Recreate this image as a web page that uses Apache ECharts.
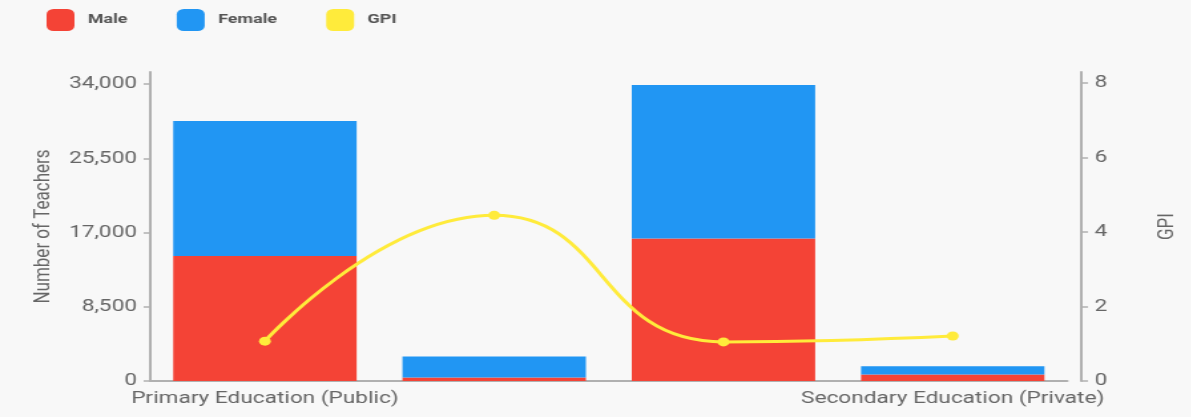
<!DOCTYPE html>
<html>
<head>
<meta charset="utf-8">
<script src="https://cdn.jsdelivr.net/npm/echarts@6/dist/echarts.min.js"></script>
<style>
  html, body { margin: 0; padding: 0; background: #f8f8f8; overflow: hidden; }
  #chart { height: 417px; transform-origin: 0 0; }
</style>
</head>
<body>
<div id="chart"></div>
<script>
// data
var categories = [
  "Primary Education (Public)",
  "Primary Education (Private)",
  "Secondary Education (Public)",
  "Secondary Education (Private)"
];
var maleData = [14300, 400, 16300, 730];
var femaleData = [15460, 2410, 17580, 960];
var gpiData = [1.07, 4.45, 1.05, 1.21];
var teacherTicks = [0, 8500, 17000, 25500, 34000];
var gpiTicks = [0, 2, 4, 6, 8];

// the source picture is stretched horizontally, so draw narrower and scale
var S = 1.33;
var el = document.getElementById("chart");
el.style.width = (1191 / S) + "px";
el.style.transform = "scaleX(" + S + ")";

var chart = echarts.init(el);
var axisGrey = "#b0b0b0";
var labelGrey = "#666";
var shownIdx = function(i) { return i === 0 || i === categories.length - 1; };

var option = {
  backgroundColor: "#f8f8f8",
  textStyle: { fontFamily: "Roboto" },
  animation: false,
  legend: {
    left: 35,
    top: 9,
    padding: 0,
    itemWidth: 21,
    itemHeight: 22,
    itemGap: 37,
    icon: "roundRect",
    textStyle: {
      fontSize: 13.5,
      fontWeight: "bold",
      color: "#555",
      padding: [0, 0, 0, 5]
    },
    data: ["Male", "Female", "GPI"]
  },
  grid: {
    left: 113,
    right: 1191 / S - 803,
    top: 72,
    bottom: 36,
    containLabel: false
  },
  xAxis: {
    type: "category",
    data: categories,
    axisLine: { lineStyle: { color: axisGrey, width: 2 } },
    axisTick: {
      alignWithLabel: true,
      length: 6,
      interval: shownIdx,
      lineStyle: { color: axisGrey, width: 2 }
    },
    axisLabel: {
      interval: shownIdx,
      fontSize: 17,
      color: labelGrey,
      margin: 9
    }
  },
  yAxis: [
    {
      type: "value",
      min: 0,
      max: 35375,
      name: "Number of Teachers",
      nameLocation: "middle",
      nameGap: 72,
      nameTextStyle: { fontSize: 17, color: labelGrey },
      splitLine: { show: false },
      axisLine: { show: true, lineStyle: { color: axisGrey, width: 2 } },
      axisTick: {
        show: true,
        length: 5,
        customValues: teacherTicks,
        lineStyle: { color: axisGrey, width: 1.5 }
      },
      axisLabel: {
        customValues: teacherTicks,
        fontSize: 17,
        color: labelGrey,
        margin: 10,
        formatter: function(v) { return v.toLocaleString("en-US"); }
      }
    },
    {
      type: "value",
      min: 0,
      max: 8.3,
      offset: 10.5,
      name: "GPI",
      nameLocation: "middle",
      nameGap: 56,
      nameTextStyle: { fontSize: 17, color: labelGrey },
      splitLine: { show: false },
      axisLine: { show: true, lineStyle: { color: axisGrey, width: 2 } },
      axisTick: {
        show: true,
        length: 5,
        customValues: gpiTicks,
        lineStyle: { color: axisGrey, width: 1.5 }
      },
      axisLabel: {
        customValues: gpiTicks,
        fontSize: 17,
        color: labelGrey,
        margin: 10
      }
    }
  ],
  series: [
    {
      name: "Male",
      type: "bar",
      stack: "teachers",
      barCategoryGap: "20%",
      itemStyle: { color: "#f44336" },
      data: maleData
    },
    {
      name: "Female",
      type: "bar",
      stack: "teachers",
      itemStyle: { color: "#2196f3" },
      data: femaleData
    },
    {
      name: "GPI",
      type: "line",
      yAxisIndex: 1,
      smooth: true,
      symbol: "circle",
      symbolSize: 9,
      lineStyle: { color: "#ffeb3b", width: 3 },
      itemStyle: { color: "#ffeb3b" },
      data: gpiData
    }
  ]
};
chart.setOption(option);
</script>
</body>
</html>
